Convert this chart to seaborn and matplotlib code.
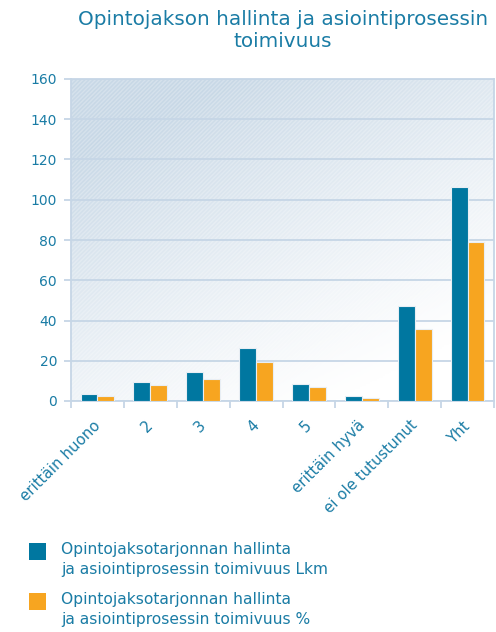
import matplotlib
matplotlib.use("Agg")
import matplotlib.pyplot as plt
import matplotlib.transforms as mtransforms
import numpy as np
import pandas as pd
import seaborn as sns
from matplotlib.colors import LinearSegmentedColormap
from matplotlib.patches import Rectangle

categories = ["erittäin huono", "2", "3", "4", "5", "erittäin hyvä",
              "ei ole tutustunut", "Yht"]
lkm = [3.4, 9.4, 14.4, 26.3, 8.4, 2.5, 47.4, 106.2]
pct = [2.6, 7.8, 10.9, 19.5, 6.8, 1.7, 35.8, 79.0]
series = [
    "Opintojaksotarjonnan hallinta\nja asiointiprosessin toimivuus Lkm",
    "Opintojaksotarjonnan hallinta\nja asiointiprosessin toimivuus %",
]
title = "Opintojakson hallinta ja asiointiprosessin\ntoimivuus"

text_color = "#1a7ca5"
grid_color = "#c6d6e6"
colors = ["#0077a0", "#f7a520"]

df = pd.DataFrame({
    "category": categories * 2,
    "value": lkm + pct,
    "series": [series[0]] * len(categories) + [series[1]] * len(categories),
})

sns.set_theme(style="white")
plt.rcParams["font.family"] = ["DejaVu Sans"]

W, H = 496, 632
fig = plt.figure(figsize=(W / 100, H / 100), dpi=100)
ax = fig.add_axes([71 / W, 1 - 401 / H, (494 - 71) / W, (401 - 79) / H])

# gradient background, blue-grey top-left to white bottom-right
xx, yy = np.meshgrid(np.linspace(0, 1, 200), np.linspace(0, 1, 200))
grad = np.clip((1 - xx) * 0.55 + yy * 0.85 - 0.2, 0, 1) ** 1.2
cmap = LinearSegmentedColormap.from_list("bg", ["#ffffff", "#c8d8e6"])
ax.imshow(grad, cmap=cmap, extent=[0, 1, 0, 1], transform=ax.transAxes,
          origin="lower", aspect="auto", zorder=0)
ax.add_patch(Rectangle((0, 0), 1, 1, transform=ax.transAxes, fill=False,
                       hatch="////////", edgecolor=(1, 1, 1, 0.25), lw=0, zorder=0.5))

sns.barplot(data=df, x="category", y="value", hue="series", palette=colors,
            saturation=1, width=0.64, edgecolor="#e8eef4", linewidth=0.8,
            ax=ax, zorder=3, legend=False)

ax.set_xlim(-0.5, len(categories) - 0.5)
ax.set_ylim(0, 160)
ax.set_yticks(range(0, 161, 20))
ax.yaxis.grid(True, color=grid_color, lw=1.3, zorder=1)
ax.set_axisbelow(True)
ax.set_xlabel("")
ax.set_ylabel("")

for s in ax.spines.values():
    s.set_color(grid_color)
    s.set_linewidth(1.3)

ax.tick_params(axis="y", colors=grid_color, labelcolor=text_color,
               labelsize=10, length=5, width=1.3, left=True, pad=5)
ax.set_xticks(np.arange(len(categories)))
ax.set_xticks(np.arange(-0.5, len(categories)), minor=True)
ax.tick_params(axis="x", which="major", length=0, labelcolor=text_color,
               labelsize=10.8, pad=12)
ax.tick_params(axis="x", which="minor", length=5, width=1.3,
               colors=grid_color, bottom=True)
ax.set_xticklabels(categories, rotation=45, ha="right",
                   rotation_mode="anchor")
shift = mtransforms.ScaledTranslation(-5 / 100, 0, fig.dpi_scale_trans)
for lab in ax.get_xticklabels():
    lab.set_transform(lab.get_transform() + shift)

# legend: square aligned with first line of each two-line label
for i, (label, color) in enumerate(zip(series, colors)):
    top = 543 + i * 50
    fig.patches.append(Rectangle((29 / W, 1 - (top + 17) / H), 17 / W, 17 / H,
                                 transform=fig.transFigure, facecolor=color,
                                 edgecolor="none"))
    fig.text(61 / W, 1 - (top - 1) / H, label, ha="left", va="top",
             fontsize=11.2, color=text_color, linespacing=1.45)

fig.text(283 / W, 1 - 10 / H, title, ha="center", va="top",
         fontsize=14.4, color=text_color, linespacing=1.2)

fig.savefig("out.png", dpi=100)
